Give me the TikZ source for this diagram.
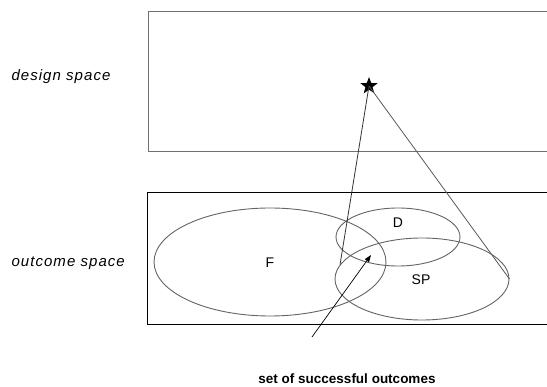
\documentclass[tikz,border=0pt]{standalone}
\usepackage{fontspec}
\setmainfont{Liberation Sans}
\usetikzlibrary{arrows.meta,shapes.geometric}
\definecolor{spacegray}{RGB}{112,112,112}
\definecolor{setgray}{RGB}{100,100,100}
\tikzset{
  frame/.style={line width=0.9pt},
  region/.style={ellipse,draw=setgray,line width=0.9pt,inner sep=0pt},
  ray/.style={line width=0.8pt,black!80},
  pointer/.style={-{Triangle[length=7pt,width=5pt]},line width=0.7pt},
  setname/.style={font=\fontsize{14}{16}\selectfont},
  spacename/.style={anchor=west,font=\fontsize{15}{17}\selectfont\itshape\addfontfeature{LetterSpace=7}},
}
\begin{document}
\begin{tikzpicture}[x=1pt,y=-1pt]
  \path[use as bounding box,fill=white] (0,0) rectangle (547,387);

  % the two spaces, cut off at the right edge
  \draw[frame,spacegray] (547,11) -- (148,11) -- (148,151) -- (547,151);
  \draw[frame,black] (547,192) -- (147,192) -- (147,324) -- (547,324);
  \node[spacename] (designlab) at (8,77) {design space};
  \node[spacename] (outcomelab) at (8,263) {outcome space};

  % outcome sets
  \node[region,minimum width=232,minimum height=108] (setF) at (270,262) {};
  \node[region,minimum width=124,minimum height=58] (setD) at (398,237) {};
  \node[region,minimum width=174,minimum height=82] (setSP) at (422,279) {};
  \node[setname] (labF) at (270,263) {F};
  \node[setname] (labD) at (398,223) {D};
  \node[setname] (labSP) at (421,280) {SP};

  % design point and its image
  \node[star,star points=5,star point ratio=2.4,fill=black,inner sep=0pt,minimum size=18] (design) at (369,86) {};
  \draw[ray] (design.center) -- (setSP.170);
  \draw[ray,black!65] (design.center) -- (setSP.east);

  \coordinate (tail) at (312,337);
  \coordinate (hit) at (371,255);
  \draw[pointer] (tail) -- (hit);
  \node[font=\fontsize{13.5}{15}\selectfont\bfseries] (success) at (347,379) {set of successful outcomes};
\end{tikzpicture}
\end{document}
